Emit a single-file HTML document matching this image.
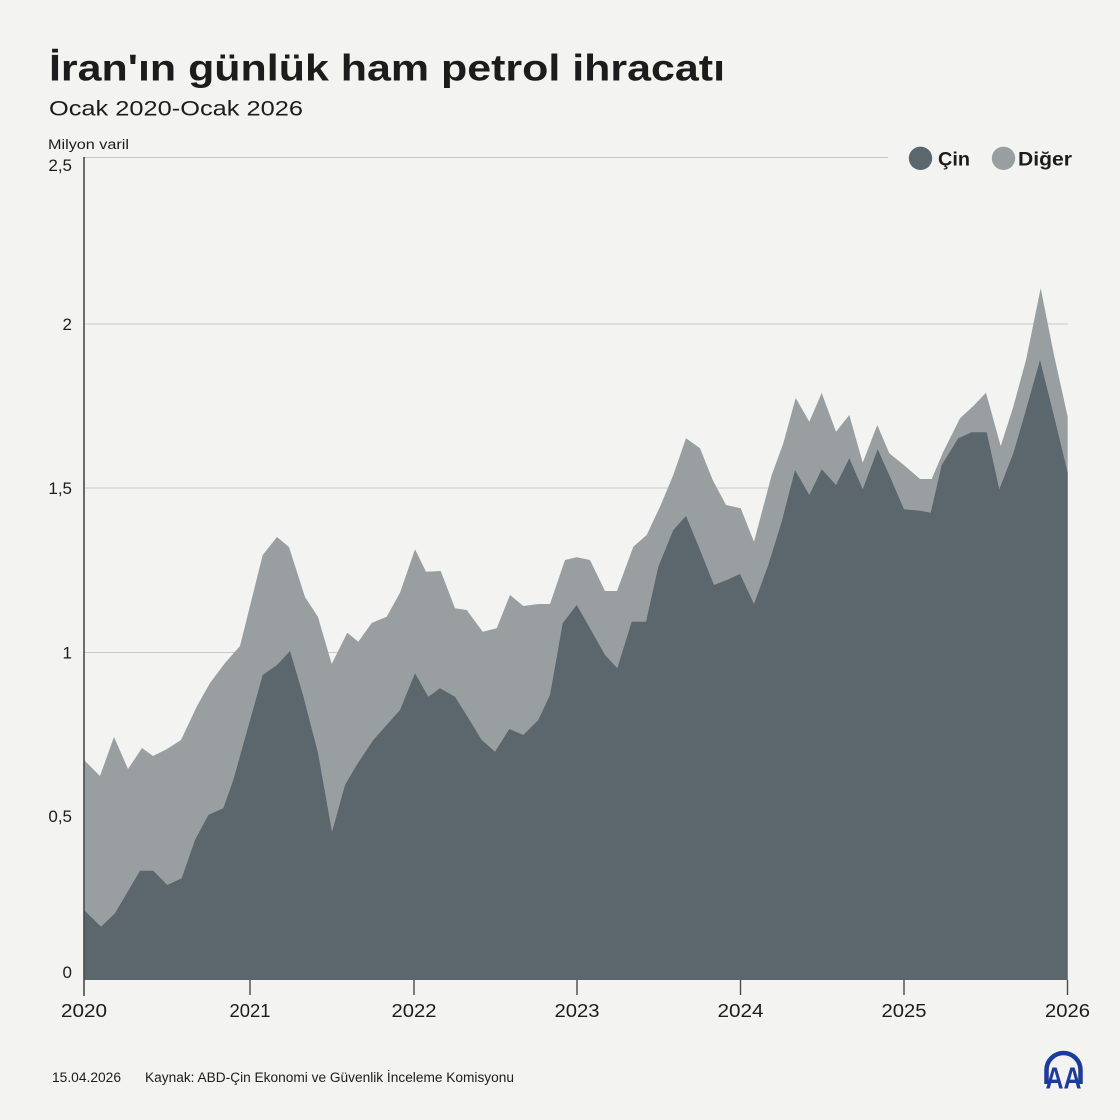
<!DOCTYPE html>
<html>
<head>
<meta charset="utf-8">
<style>
  html,body{margin:0;padding:0;background:#f3f3f2;}
  svg{display:block;}
  text{font-family:"Liberation Sans","DejaVu Sans",sans-serif;fill:#1c1c1c;}
</style>
</head>
<body>
<svg width="1120" height="1120" viewBox="0 0 1120 1120" xmlns="http://www.w3.org/2000/svg">
  <rect x="0" y="0" width="1120" height="1120" fill="#f3f3f2"/>

  <!-- Title -->
  <text x="49" y="80.5" font-size="37" font-weight="bold" textLength="676" lengthAdjust="spacingAndGlyphs">İran'ın günlük ham petrol ihracatı</text>
  <text x="49" y="115.5" font-size="21.5" textLength="254" lengthAdjust="spacingAndGlyphs">Ocak 2020-Ocak 2026</text>
  <text x="48" y="149" font-size="13.5" textLength="81" lengthAdjust="spacingAndGlyphs" fill="#333">Milyon varil</text>

  <!-- Gridlines -->
  <line x1="84" y1="157.5" x2="888" y2="157.5" stroke="#c4c4c4" stroke-width="1"/>
  <line x1="84" y1="324" x2="1068" y2="324" stroke="#c8c8c8" stroke-width="1"/>
  <line x1="84" y1="488" x2="1068" y2="488" stroke="#c8c8c8" stroke-width="1"/>
  <line x1="84" y1="652.5" x2="1068" y2="652.5" stroke="#c8c8c8" stroke-width="1"/>
  <line x1="84" y1="816" x2="1068" y2="816" stroke="#c8c8c8" stroke-width="1"/>

  <!-- Y labels -->
  <g font-size="17" text-anchor="end">
    <text x="72" y="171">2,5</text>
    <text x="72" y="330">2</text>
    <text x="72" y="494">1,5</text>
    <text x="72" y="658.5">1</text>
    <text x="72" y="822">0,5</text>
    <text x="72" y="978">0</text>
  </g>

  <!-- Diğer (total) area -->
  <polygon fill="#999fa1" points="84,980 84,760 100,776 114,737 128,769 142,748 153,756 167,749 181,740 197,706 210,683 225,663 240,646 262.7,555 277,537 289,547 305,597 318,617 331.7,664 347.3,632.7 358.3,641.7 371.7,623 386.7,616.7 400,592.7 415,549.3 426,571.7 440.7,571 455,608.3 466.7,610 482.7,631.7 496.7,628.3 510,595 523.3,606 538.3,604 550,604 565,560 576.7,557.3 590,560 605,591 617,591 633.3,546.7 646.7,535 660,506.7 673.3,475 686,438.3 700,448.3 712.7,480 726,505 740.7,508.3 754,541.7 771.7,475 783.3,443.3 795.7,398 809.3,421.7 821.7,393 836,431.7 849.3,415 862.7,462.7 877.3,425 889.3,453.3 905,466 920,479 931.7,479 943.3,451.7 960,418.3 973.3,406 986,392.7 1000.7,446 1013.3,406.7 1026,360 1040.7,288.3 1054,355 1067.7,416.7 1067.7,980"/>

  <!-- Çin area -->
  <polygon fill="#5b666d" points="84,980 84,910 101,926.7 115,913.3 140,870.7 153.3,870.7 167.3,885 181.7,878.3 195,840 208.3,815 223.3,808.3 233.3,780 262.7,675 277,665 290,651 303,695 318,753 332,832 345,785 356.7,765 373.3,740 400,710 415,673.3 428.3,696.7 440,688.3 455,696.7 468.3,718 481.7,740 495,751.7 509.3,729 523.3,735 538.3,720 550,695 562.7,623.3 576.7,605 590,628.3 605,655 617.3,668.3 631.7,621.7 646,621.7 658.3,566.7 673.3,530 686,516 699.3,548.3 714,585 726.7,580 740,574 754,604 768.3,565 781.7,521.7 795,470 809.3,495 821.7,469.3 836,485 849.3,458.3 862.7,489.3 877.7,449.3 890,476.7 904,509.3 920,510.7 930.7,512.7 941.7,465 958.3,438.3 971.7,432.3 986.7,432.3 999.3,489.3 1013.3,453.3 1025,413.3 1040,360 1053.3,413.3 1067.7,472.7 1067.7,980"/>

  <!-- Axes -->
  <line x1="84" y1="157" x2="84" y2="996" stroke="#4a4a4a" stroke-width="1.6"/>
  <g stroke="#4a4a4a" stroke-width="1.4">
    <line x1="250" y1="980" x2="250" y2="995"/>
    <line x1="414" y1="980" x2="414" y2="995"/>
    <line x1="577" y1="980" x2="577" y2="995"/>
    <line x1="740.5" y1="980" x2="740.5" y2="995"/>
    <line x1="904" y1="980" x2="904" y2="995"/>
    <line x1="1067.5" y1="980" x2="1067.5" y2="995"/>
  </g>

  <!-- X labels -->
  <g font-size="18" text-anchor="middle">
    <text x="84" y="1017" textLength="46" lengthAdjust="spacingAndGlyphs">2020</text>
    <text x="250" y="1017" textLength="41" lengthAdjust="spacingAndGlyphs">2021</text>
    <text x="414" y="1017" textLength="45" lengthAdjust="spacingAndGlyphs">2022</text>
    <text x="577" y="1017" textLength="45" lengthAdjust="spacingAndGlyphs">2023</text>
    <text x="740.5" y="1017" textLength="46" lengthAdjust="spacingAndGlyphs">2024</text>
    <text x="904" y="1017" textLength="45" lengthAdjust="spacingAndGlyphs">2025</text>
    <text x="1067.5" y="1017" textLength="45" lengthAdjust="spacingAndGlyphs">2026</text>
  </g>

  <!-- Legend -->
  <circle cx="920.5" cy="158.3" r="11.7" fill="#5b666d"/>
  <text x="938" y="165.5" font-size="19" font-weight="bold" textLength="32" lengthAdjust="spacingAndGlyphs">Çin</text>
  <circle cx="1003.5" cy="158.3" r="11.7" fill="#999fa1"/>
  <text x="1018" y="165.5" font-size="19" font-weight="bold" textLength="54" lengthAdjust="spacingAndGlyphs">Diğer</text>

  <!-- Footer -->
  <text x="52" y="1082" font-size="13.5" textLength="69" lengthAdjust="spacingAndGlyphs" fill="#2a2a2a">15.04.2026</text>
  <text x="145" y="1082" font-size="13.5" textLength="369" lengthAdjust="spacingAndGlyphs" fill="#2a2a2a">Kaynak: ABD-Çin Ekonomi ve Güvenlik İnceleme Komisyonu</text>

  <!-- AA logo -->
  <path d="M1046.5,1084 L1046.5,1070 A17,17 0 0 1 1080.5,1070 L1080.5,1084" fill="none" stroke="#1d3b9c" stroke-width="4.5"/>
  <text x="1063.5" y="1088.5" font-size="31" font-weight="bold" text-anchor="middle" textLength="36" lengthAdjust="spacingAndGlyphs" style="fill:#1d3b9c">AA</text>
</svg>
</body>
</html>
